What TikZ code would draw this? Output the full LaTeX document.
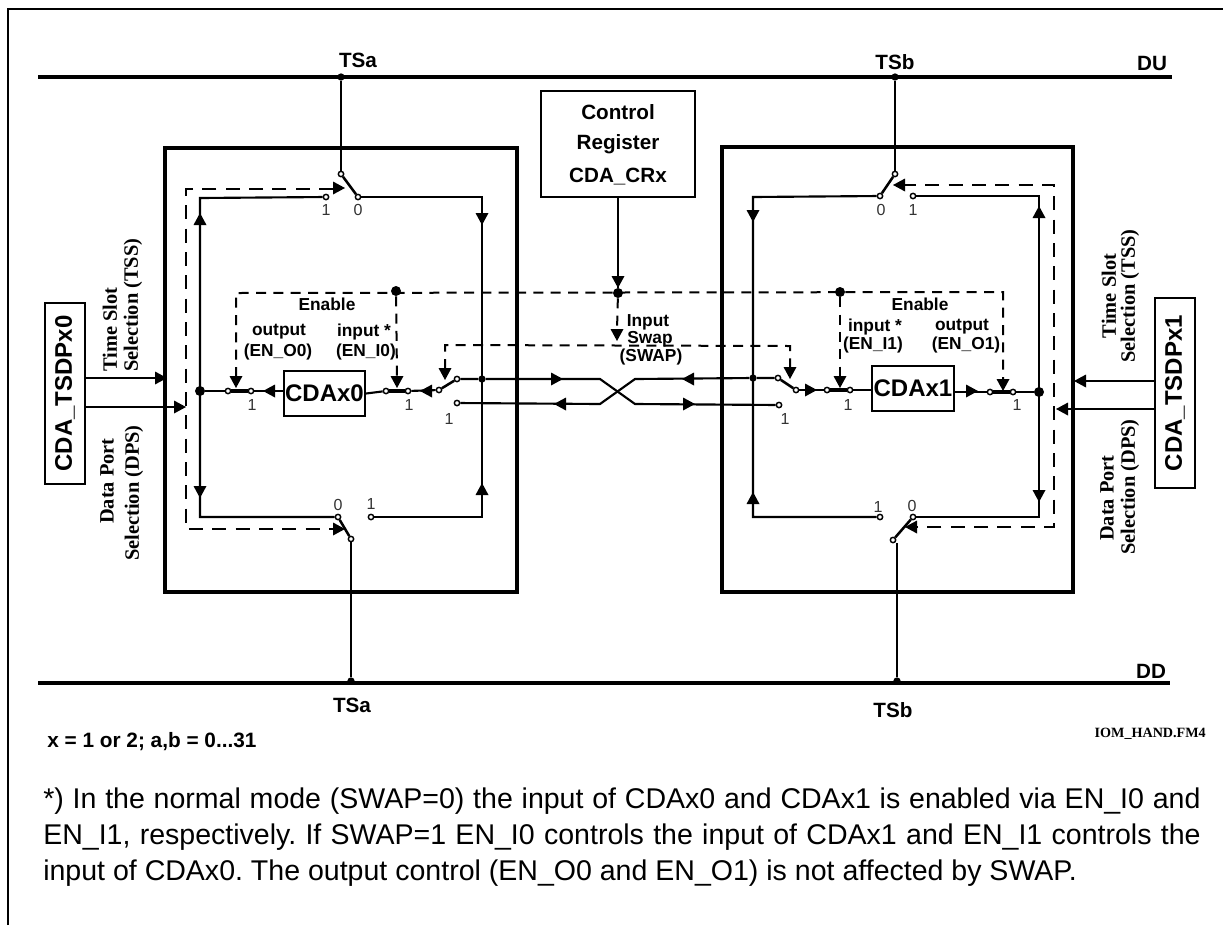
\documentclass[tikz,border=0pt]{standalone}
\usepackage{fontspec}
\setmainfont{Liberation Sans}
\newfontfamily\tms{Liberation Serif}
\newcommand\ftx[1]{\fontsize{#1}{#1}\selectfont}
\newcommand\tipR[2]{\fill (#1,#2) -- ++(-12,-6.5) -- ++(0,13) -- cycle;}
\newcommand\tipL[2]{\fill (#1,#2) -- ++(12,-6.5) -- ++(0,13) -- cycle;}
\newcommand\tipD[2]{\fill (#1,#2) -- ++(-6.5,-12) -- ++(13,0) -- cycle;}
\newcommand\tipU[2]{\fill (#1,#2) -- ++(-6.5,12) -- ++(13,0) -- cycle;}
\tikzset{
 x=0.75pt,y=-0.75pt,
 wire/.style={line width=1.6pt},
 arm/.style={line width=1.9pt},
 bar/.style={line width=2.6pt},
 bus/.style={line width=3.2pt},
 dash1/.style={line width=1.5pt,dash pattern=on 10.5pt off 7pt},
 dash2/.style={line width=1.5pt,dash pattern=on 7.5pt off 5.5pt},
 contact/.style={circle,draw,fill=white,inner sep=0pt,minimum size=4pt,line width=1.1pt},
 dot/.style={circle,fill=black,inner sep=0pt,minimum size=7.5pt},
 smalldot/.style={circle,fill=black,inner sep=0pt,minimum size=5.5pt},
 busdot/.style={circle,fill=black,inner sep=0pt,minimum size=5.5pt},
 frame/.style={draw,line width=3.4pt,inner sep=0pt},
 box/.style={draw,line width=1.6pt,inner sep=0pt},
 lab/.style={inner sep=0pt,font=\bfseries\ftx{13}},
 tslab/.style={inner sep=0pt,font=\bfseries\ftx{15.5}},
 num/.style={inner sep=0pt,font=\ftx{12},text=black!80},
 side/.style={inner sep=0pt,rotate=90,font=\tms\bfseries\ftx{15.3}},
}
\begin{document}
\begin{tikzpicture}
\useasboundingbox (0,0) rectangle (1223,925);
% page frame
\coordinate (fa) at (8,925); \coordinate (fb) at (8,9); \coordinate (fc) at (1223,9);
\draw[line width=1pt] (fa) -- (fb) -- (fc);
% main boxes
\node[frame,minimum width=264pt,minimum height=333pt] (boxL) at (341,370) {};
\node[frame,minimum width=263.25pt,minimum height=333.75pt] (boxR) at (897.5,369.5) {};
% buses
\coordinate (du0) at (38,77); \coordinate (du1) at (1172,77);
\coordinate (dd0) at (38,683); \coordinate (dd1) at (1170,683);
\draw[bus] (du0) -- (du1);
\draw[bus] (dd0) -- (dd1);
\node[busdot] (tau) at (341,77) {};
\node[busdot] (tbu) at (895,77) {};
\node[busdot] (tad) at (351,681) {};
\node[busdot] (tbd) at (897,681) {};
% left top / bottom switches
\node[contact] (sLt) at (341,174) {};
\node[contact] (sLt0) at (358,197) {};
\node[contact] (sLt1) at (326,197) {};
\node[contact] (sLb) at (351,539) {};
\node[contact] (sLb0) at (338,517) {};
\node[contact] (sLb1) at (371,517) {};
\coordinate (nL1) at (200,198); \coordinate (nL2) at (200,517);
\coordinate (nL3) at (482,197); \coordinate (nL4) at (482,517);
\draw[wire] (tau) -- (sLt);
\draw[arm] (sLt) -- (sLt0);
\draw[wire] (sLt0) -- (nL3) -- (nL4) -- (sLb1);
\draw[wire] (sLt1) -- (nL1) -- (nL2) -- (sLb0);
\draw[arm] (sLb0) -- (sLb);
\draw[wire] (sLb) -- (tad);
\tipU{200}{213} \tipD{200}{498} \tipD{482}{225} \tipU{482}{483}
% left dashed
\coordinate (dL0) at (333,189); \coordinate (dL1) at (186,189);
\coordinate (dL2) at (186,529); \coordinate (dL3) at (333,529);
\draw[dash1] (dL0) -- (dL1) -- (dL2) -- (dL3);
\tipR{345}{188} \tipR{345}{529}
% left chain
\node[box,minimum width=60.75pt,minimum height=33.75pt,font=\bfseries\ftx{18}] (cdaL) at (324.5,393.5) {CDAx0};
\node[dot] (dotL) at (200,391) {};
\node[contact] (oL0) at (228,391) {};
\node[contact] (oL1) at (251,391) {};
\node[contact] (iL0) at (386,391) {};
\node[contact] (iL1) at (408,391) {};
\node[contact] (wL0) at (439,390) {};
\node[contact] (wL1) at (457,379) {};
\node[contact] (wL2) at (457,403) {};
\draw[wire] (dotL) -- (oL0);
\draw[bar] (oL0) -- (oL1);
\draw[wire] (oL1) -- (cdaL.west |- oL1);
\draw[wire] (cdaL.east) -- (iL0);
\draw[bar] (iL0) -- (iL1);
\draw[wire] (iL1) -- (wL0);
\draw[arm] (wL0) -- (wL1);
\tipL{263}{391} \tipL{420}{391}
% cross
\node[smalldot] (dotM) at (482,379) {};
\node[smalldot] (dotN) at (753,378) {};
\coordinate (x0) at (600,379); \coordinate (x1) at (635,404);
\coordinate (x2) at (600,404); \coordinate (x3) at (635,379);
\node[contact] (wR1) at (778,378) {};
\node[contact] (wR2) at (779,405) {};
\node[contact] (wR0) at (796,390) {};
\draw[wire] (wL1) -- (dotM) -- (x0) -- (x1) -- (wR2);
\draw[wire] (wL2) -- (x2) -- (x3) -- (dotN) -- (wR1);
\draw[arm] (wR1) -- (wR0);
\tipR{563}{379} \tipL{554}{404} \tipL{682}{379} \tipR{695}{404}
% right chain
\node[box,minimum width=61.5pt,minimum height=33.75pt,font=\bfseries\ftx{18}] (cdaR) at (913,388.5) {CDAx1};
\node[contact] (iR0) at (827,390) {};
\node[contact] (iR1) at (850,390) {};
\node[contact] (oR0) at (990,392) {};
\node[contact] (oR1) at (1013,392) {};
\node[dot] (dotR) at (1039,392) {};
\draw[wire] (wR0) -- (iR0);
\draw[bar] (iR0) -- (iR1);
\draw[wire] (iR1) -- (cdaR.west |- iR1);
\draw[wire] (cdaR.east |- oR0) -- (oR0);
\draw[bar] (oR0) -- (oR1);
\draw[wire] (oR1) -- (dotR);
\tipR{817}{390} \tipR{978}{391}
% right top / bottom switches
\node[contact] (sRt) at (895,174) {};
\node[contact] (sRt0) at (880,196) {};
\node[contact] (sRt1) at (913,196) {};
\node[contact] (sRb) at (893,540) {};
\node[contact] (sRb0) at (913,517) {};
\node[contact] (sRb1) at (880,517) {};
\coordinate (nR1) at (753,197); \coordinate (nR2) at (753,517);
\coordinate (nR3) at (1039,196); \coordinate (nR4) at (1039,517);
\draw[wire] (tbu) -- (sRt);
\draw[arm] (sRt) -- (sRt0);
\draw[wire] (sRt0) -- (nR1) -- (nR2) -- (sRb1);
\draw[wire] (sRt1) -- (nR3) -- (nR4) -- (sRb0);
\draw[arm] (sRb0) -- (sRb);
\draw[wire] (tbd |- sRb.south) -- (tbd);
\tipD{753}{222} \tipU{753}{492} \tipU{1039}{206} \tipD{1039}{502}
% right dashed
\coordinate (dR0) at (902,185); \coordinate (dR1) at (1054,185);
\coordinate (dR2) at (1054,527); \coordinate (dR3) at (917,527);
\draw[dash1] (dR0) -- (dR1) -- (dR2) -- (dR3);
\tipL{893}{185} \tipL{905}{527}
% control register
\node[box,minimum width=115.5pt,minimum height=79.5pt] (ctrl) at (618,144) {};
\node[tslab] (ct1) at (618,112) {Control};
\node[tslab] (ct2) at (618,144) {Register};
\node[tslab] (ct3) at (618,177) {CDA\_CRx};
\node[dot] (dotC) at (618,293) {};
\draw[wire] (ctrl.south) -- (dotC);
\tipD{618}{288}
% enable dashed
\coordinate (eL) at (236,293); \coordinate (eR) at (1003,292);
\coordinate (eLd) at (236,377); \coordinate (eRd) at (1003,380);
\node[dot] (dotE0) at (396,291) {};
\node[dot] (dotE1) at (840,292) {};
\coordinate (eM0) at (397,377); \coordinate (eM1) at (840,377);
\draw[dash2] (eLd) -- (eL) -- (eR) -- (eRd);
\draw[dash2] (dotE0) -- (eM0);
\draw[dash2] (dotE1) -- (eM1);
\tipD{236}{388} \tipD{397}{388} \tipD{840}{388} \tipD{1003}{391}
% swap dashed
\coordinate (sw0) at (445,345); \coordinate (sw1) at (790,346);
\coordinate (sw0d) at (445,369); \coordinate (sw1d) at (790,368);
\coordinate (swC) at (617,330);
\draw[dash2] (sw0d) -- (sw0) -- (sw1) -- (sw1d);
\draw[dash2] (dotC) -- (swC);
\tipD{445}{380} \tipD{790}{379} \tipD{617}{341}
% external blocks
\node[box,rotate=90,minimum width=135.75pt,minimum height=30pt,font=\bfseries\ftx{18}] (tsL) at (65,393.5) {CDA\_TSDPx0};
\node[box,rotate=90,minimum width=142.5pt,minimum height=30pt,font=\bfseries\ftx{18}] (tsR) at (1175,393) {CDA\_TSDPx1};
\coordinate (aL1) at (155,378); \coordinate (aL2) at (175,407);
\coordinate (aR1) at (1085,381); \coordinate (aR2) at (1067,409);
\draw[wire] (tsL.south |- aL1) -- (aL1);
\draw[wire] (tsL.south |- aL2) -- (aL2);
\draw[wire] (tsR.north |- aR1) -- (aR1);
\draw[wire] (tsR.north |- aR2) -- (aR2);
\tipR{167}{378} \tipR{186}{407} \tipL{1074}{381} \tipL{1056}{409}
% side labels
\node[side,anchor=west] (t1) at (110,372) {Time Slot};
\node[side,anchor=west] (t2) at (133,372) {Selection (TSS)};
\node[side] (t3) at (107,481) {Data Port};
\node[side] (t4) at (134,493) {Selection (DPS)};
\node[side] (t5) at (1109,296) {Time Slot};
\node[side] (t6) at (1130,296) {Selection (TSS)};
\node[side] (t7) at (1107,498) {Data Port};
\node[side] (t8) at (1130,487) {Selection (DPS)};
% bus labels
\node[tslab] (l1) at (358,60) {TSa};
\node[tslab] (l2) at (895,62) {TSb};
\node[tslab] (l3) at (1152,63) {DU};
\node[tslab] (l4) at (1151,671) {DD};
\node[tslab] (l5) at (352,705) {TSa};
\node[tslab] (l6) at (893,710) {TSb};
% inner labels
\node[lab] (e1) at (327,304) {Enable};
\node[lab] (e2) at (279,332) {output};
\node[lab] (e3) at (278,352) {(EN\_O0)};
\node[lab] (e4) at (364,332) {input *};
\node[lab] (e5) at (366,352) {(EN\_I0)};
\node[lab] (e6) at (920,304) {Enable};
\node[lab] (e7) at (875,327) {input *};
\node[lab] (e8) at (873,345) {(EN\_I1)};
\node[lab] (e9) at (962,327) {output};
\node[lab] (e10) at (966,345) {(EN\_O1)};
\node[lab] (s1) at (648,322) {Input};
\node[lab] (s2) at (650,339) {Swap};
\node[lab] (s3) at (651,357) {(SWAP)};
% contact numbers
\node[num] (n1) at (326,210) {1};
\node[num] (n2) at (358,210) {0};
\node[num] (n3) at (338,505) {0};
\node[num] (n4) at (371,504) {1};
\node[num] (n5) at (881,210) {0};
\node[num] (n6) at (913,210) {1};
\node[num] (n7) at (878,507) {1};
\node[num] (n8) at (912,506) {0};
\node[num] (n9) at (252,405) {1};
\node[num] (n10) at (409,405) {1};
\node[num] (n11) at (449,419) {1};
\node[num] (n12) at (785,419) {1};
\node[num] (n13) at (848,405) {1};
\node[num] (n14) at (1017,405) {1};
% footer
\node[inner sep=0pt,anchor=west,font=\bfseries\ftx{15.6}] (f1) at (47,742) {x = 1 or 2; a,b = 0...31};
\node[inner sep=0pt,anchor=east,font=\tms\bfseries\ftx{10.6}] (f2) at (1206,734) {IOM\_HAND.FM4};
\node[inner sep=0pt,anchor=north west,text width=868pt,align=justify,font=\ftx{21.4}] (note) at (43,788) {\frenchspacing\baselineskip=27pt *) In the normal mode (SWAP=0) the input of CDAx0 and CDAx1 is enabled via EN\_I0 and\linebreak EN\_I1, respectively. If SWAP=1 EN\_I0 controls the input of CDAx1 and EN\_I1 controls the\linebreak input of CDAx0. The output control (EN\_O0 and EN\_O1) is not affected by SWAP.\par};
\end{tikzpicture}
\end{document}
